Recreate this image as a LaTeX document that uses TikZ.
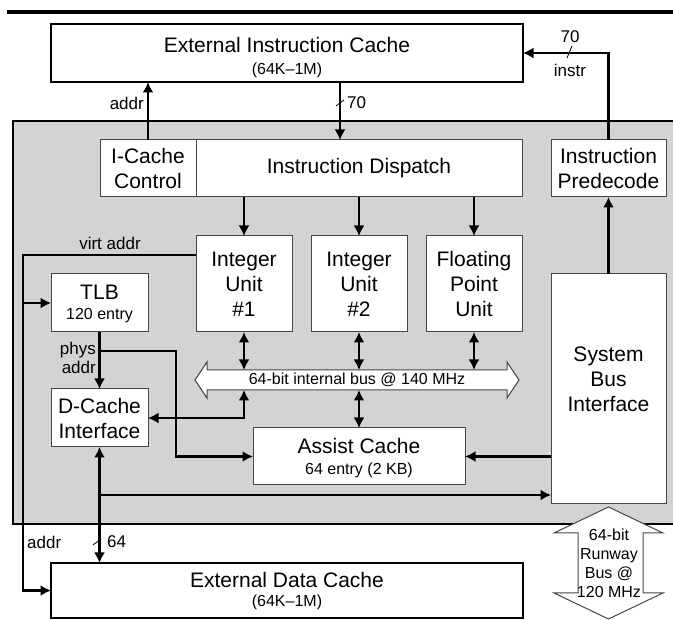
\documentclass[tikz,border=0pt]{standalone}
\usepackage{fontspec}
\setmainfont{Liberation Sans}
\usetikzlibrary{arrows.meta}
\definecolor{chipgray}{RGB}{211,211,211}
\definecolor{edgegray}{RGB}{70,70,70}
\begin{document}
\begin{tikzpicture}[x=1pt,y=-1pt,
  bigtxt/.style={font=\fontsize{21}{25}\selectfont},
  smalltxt/.style={font=\fontsize{16}{19}\selectfont, inner sep=0},
  lbl/.style={font=\fontsize{17}{19}\selectfont, inner sep=0},
  unit/.style={draw=edgegray, line width=1pt, fill=white, inner sep=0, outer sep=0, align=center, bigtxt},
  extbox/.style={draw=black, line width=2.5pt, fill=white, inner sep=0, outer sep=0},
  wire/.style={line width=2.3pt},
  arr/.style={wire, -{Latex[length=10.5pt,width=11pt]}},
  darr/.style={wire, {Latex[length=10.5pt,width=11pt]}-{Latex[length=10.5pt,width=11pt]}},
  tick/.style={line width=0.8pt},
  hollow/.style={draw=edgegray, line width=1pt, fill=white, line join=miter}
]
\useasboundingbox (0,0) rectangle (673,620);

% header rule and processor chip outline
\begin{scope}
  \clip (0,0) rectangle (673,620);
  \draw[line width=3.5pt] (7,12) -- (700,12);
  \draw[line width=2.5pt, fill=chipgray] (13,121) rectangle (720,524);
\end{scope}

% external caches
\node[extbox, minimum width=472, minimum height=58] (eic) at (287,53) {};
\node[bigtxt, inner sep=0] (eict) at (287,45) {External Instruction Cache};
\node[smalltxt] (eics) at (287,70) {(64K--1M)};

\node[extbox, minimum width=472, minimum height=55] (edc) at (287,590.5) {};
\node[bigtxt, inner sep=0] (edct) at (287,580) {External Data Cache};
\node[smalltxt] (edcs) at (287,602) {(64K--1M)};

% on-chip blocks
\node[unit, minimum width=96, minimum height=57] (icc) at (148,168.5) {I-Cache\\Control};
\node[unit, minimum width=326, minimum height=57] (disp) at (359,168.5) {Instruction Dispatch};
\node[unit, minimum width=115, minimum height=57] (pred) at (608.5,168.5) {Instruction\\Predecode};

\node[unit, minimum width=96, minimum height=96] (iu1) at (244,284) {Integer\\Unit\\\#1};
\node[unit, minimum width=96, minimum height=96] (iu2) at (359,284) {Integer\\Unit\\\#2};
\node[unit, minimum width=96, minimum height=96] (fpu) at (474,284) {Floating\\Point\\Unit};

\node[unit, minimum width=97, minimum height=58] (tlb) at (99.5,303) {};
\node[bigtxt, inner sep=0] (tlbt) at (99.5,292) {TLB};
\node[smalltxt] (tlbs) at (99.5,316) {120 entry};

\node[unit, minimum width=97, minimum height=58] (dci) at (99.5,418) {D-Cache\\Interface};

\node[unit, minimum width=212, minimum height=57] (asc) at (359,456.5) {};
\node[bigtxt, inner sep=0] (asct) at (359,446) {Assist Cache};
\node[smalltxt] (ascs) at (359,470) {64 entry (2 KB)};

\node[unit, minimum width=115, minimum height=230] (sbi) at (608.5,389) {};
\node[bigtxt, inner sep=0, align=center] (sbit) at (608.5,379) {System\\Bus\\Interface};

% internal bus
\draw[hollow] (195,380) -- (207,362) -- (207,370) -- (507,370) -- (507,362)
  -- (519,380) -- (507,398) -- (507,390) -- (207,390) -- (207,398) -- cycle;
\node[smalltxt] (bus) at (357,380) {64-bit internal bus @ 140 MHz};
\coordinate (bustop) at (0,370);
\coordinate (busbot) at (0,390);

% runway bus
\draw[hollow] (608.5,507) -- (663,533) -- (643,533) -- (643,593) -- (663,593)
  -- (608.5,619) -- (554,593) -- (578,593) -- (578,533) -- (554,533) -- cycle;
\node[smalltxt, align=center] (rwy) at (609,563) {64-bit\\Runway\\Bus @\\120 MHz};

% instruction side
\coordinate (c70) at (340,0);
\draw[arr] (icc.north) -- (eic.south -| icc.north);
\node[lbl, anchor=east] (addrI) at (144,103) {addr};
\draw[arr] (eic.south -| c70) -- (disp.north -| c70);
\draw[tick] (336,106) -- (344,100);
\node[lbl, anchor=west] (w70) at (347,103) {70};
\draw[arr] (pred.north) |- (eic.east);
\draw[tick] (567,58) -- (572,46);
\node[lbl] (i70) at (570,37) {70};
\node[lbl] (instr) at (570,70) {instr};
\draw[arr] (sbi.north) -- (pred.south);

\draw[arr] (disp.south -| iu1.north) -- (iu1.north);
\draw[arr] (disp.south -| iu2.north) -- (iu2.north);
\draw[arr] (disp.south -| fpu.north) -- (fpu.north);

% address path
\coordinate (va) at (23,255);
\draw[arr] (iu1.west |- va) -- (va) |- (edc.west);
\draw[arr] (va |- tlb.west) -- (tlb.west);
\node[lbl] (virt) at (110,243) {virt addr};
\draw[arr] (tlb.south) -- (dci.north);
\node[lbl, anchor=east, align=right] (phys) at (96,358) {phys\\addr};
\coordinate (pa) at (99.5,351);
\coordinate (pb) at (176,351);
\draw[arr] (pa) -- (pb) |- (asc.west);
\node[lbl, anchor=west] (addrD) at (27,542) {addr};

% bus connections
\draw[darr] (iu1.south) -- (iu1.south |- bustop);
\draw[darr] (iu2.south) -- (iu2.south |- bustop);
\draw[darr] (fpu.south) -- (fpu.south |- bustop);
\draw[darr] (iu1.south |- busbot) |- (dci.east);
\draw[darr] (iu2.south |- busbot) -- (asc.north);
\draw[arr] (sbi.west |- asc.east) -- (asc.east);

% data path
\draw[darr] (dci.south) -- (edc.north -| dci.south);
\coordinate (db) at (99.5,495);
\draw[arr] (db) -- (sbi.west |- db);
\draw[tick] (93,545) -- (101,539);
\node[lbl, anchor=west] (w64) at (107,542) {64};
\end{tikzpicture}
\end{document}
